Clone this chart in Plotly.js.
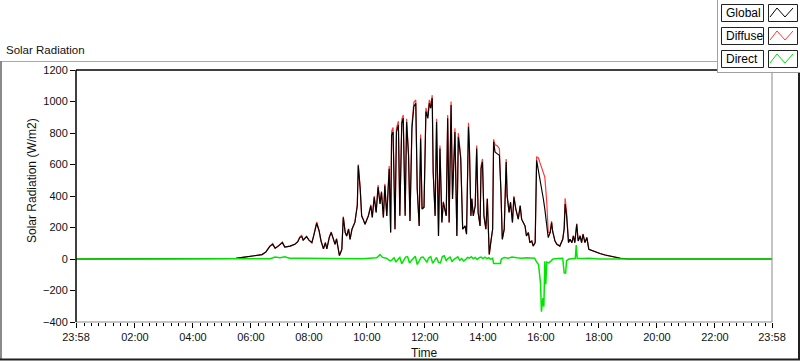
<!DOCTYPE html>
<html><head><meta charset="utf-8">
<script src="https://cdn.plot.ly/plotly-3.0.1.min.js"></script>
<style>html,body{margin:0;padding:0;background:#fff}#chart{width:800px;height:361px}</style>
</head><body><div id="chart"></div>
<script>
// minutes since midnight (-2 = 23:58 previous day)
const timeMin = [
-2,317,329,343,358,370,383,391,399,405,
410,416,420,425,430,441,451,457,461,465,
468,475,480,486,490,496,501,505,510,514,
517,522,526,530,534,537,543,548,551,555,
558,562,565,569,575,580,582,586,589,592,
596,603,608,611,615,619,623,627,630,634,
637,641,646,649,651,654,658,661,665,668,
672,675,679,682,686,689,693,697,701,704,
708,711,714,718,722,726,729,732,735,737,
741,744,748,751,755,758,764,767,770,774,
777,782,786,789,794,798,803,806,810,812,
815,817,820,824,827,830,834,836,839,842,
846,849,853,857,860,862,865,869,874,877,
880,884,886,888,890,894,897,901,904,908,
913,917,920,923,927,930,934,937,941,944,
948,951,955,958,962,965,968,972,975,979,
982,984,989,993,999,1005,1008,1010,1013,1017,
1020,1024,1027,1030,1034,1037,1041,1044,1047,1051,
1055,1059,1072,1082,1093,1107,1124,1140,1438];
const globalVals = [
0,0,4,10,15,20,28,45,80,93,
68,80,93,104,76,82,93,110,136,143,
120,142,120,104,150,227,178,114,65,104,
65,136,168,124,93,128,22,61,264,168,
146,189,125,189,232,338,594,445,274,253,
221,274,338,264,392,296,456,349,424,264,
466,274,573,168,786,807,189,807,850,274,
861,893,274,870,658,242,829,968,989,445,
210,765,317,327,936,893,989,957,1021,552,
274,870,146,701,232,360,274,893,232,978,
381,807,146,776,637,189,210,157,840,701,
274,381,274,338,701,296,210,573,616,274,
189,381,29,125,189,744,680,669,658,445,
125,189,445,616,402,296,360,232,392,317,
253,338,253,232,210,146,168,104,114,82,
104,626,562,498,445,381,317,189,136,168,
232,178,114,93,82,125,189,349,274,104,
125,104,146,104,221,114,146,104,157,104,
136,61,45,35,25,15,5,0,0];
const diffuseVals = [
0,0,4,10,15,20,28,45,82,98,
68,82,96,108,76,82,95,112,140,150,
120,145,120,104,152,235,178,114,65,104,
65,140,172,124,93,130,22,61,270,168,
146,192,125,190,235,345,600,450,274,253,
221,278,345,264,400,296,470,349,430,264,
478,274,590,168,810,835,189,830,875,274,
885,915,274,890,670,242,850,995,1010,445,
210,790,317,330,960,910,1010,975,1040,552,
274,890,146,720,232,365,274,915,232,1000,
381,830,146,800,650,189,210,157,865,715,
274,385,274,340,720,296,210,590,635,274,
189,385,29,125,189,760,725,720,700,445,
125,189,450,635,402,296,362,232,400,317,
253,340,253,232,210,146,168,104,114,82,
104,650,640,610,575,560,520,360,170,168,
240,180,114,93,82,125,200,385,300,104,
125,104,150,104,225,114,150,104,160,104,
136,61,45,35,25,15,5,0,0];
const directTime = [
-2,330,360,400,410,420,430,440,470,520,
560,590,620,627,632,640,648,652,656,660,
664,668,672,676,680,684,688,692,696,700,
704,708,712,716,720,724,728,732,736,740,
744,748,752,756,760,764,768,772,776,780,
784,788,792,796,800,804,808,812,816,820,
824,828,832,836,840,844,848,852,856,860,
862,876,878,884,892,900,910,920,930,940,
947,950,955,959,961,964,966,968,970,972,
976,980,985,995,1005,1008,1011,1013,1018,1031,
1033,1035,1045,1060,1080,1438];
const directVals = [
0,0,3,2,12,8,14,5,5,3,
5,2,8,28,10,5,-12,-5,8,-20,
-3,10,-30,-8,12,15,-25,-10,5,18,
-35,-15,10,12,-5,-20,8,15,-28,-6,
10,-22,-25,15,20,-10,5,12,-18,-2,
6,14,-8,3,-12,-4,10,6,15,2,
10,-3,8,12,3,12,2,8,-2,5,
-29,-29,0,10,5,12,8,5,8,5,
5,-14,-35,-152,-334,-248,-302,-14,-160,-20,
-25,-15,0,3,5,-88,-90,-10,0,3,
88,5,3,5,0,0];

const xTickVals = [-2,120,240,360,480,600,720,840,960,1080,1200,1320,1438];
const xTickText = ["23:58","02:00","04:00","06:00","08:00","10:00","12:00","14:00","16:00","18:00","20:00","22:00","23:58"];
const yTickVals = [-400,-200,0,200,400,600,800,1000,1200];
const seriesNames = ["Global","Diffuse","Direct"];
const seriesColors = ["#000000","#ff3a3a","#00e600"];

const FONT = "Liberation Sans, Arial, sans-serif";
const L=76, R=772, T=70, B=322;
const px = x => (x-L)/(R-L);
const py = y => (B-y)/(B-T);

function line(x0,y0,x1,y1,color,w){
  return {type:'line',xref:'paper',yref:'paper',x0:px(x0),y0:py(y0),x1:px(x1),y1:py(y1),line:{color:color,width:w},layer:'above'};
}
function rect(x0,y0,x1,y1,color,fill){
  return {type:'rect',xref:'paper',yref:'paper',x0:px(x0),y0:py(y0),x1:px(x1),y1:py(y1),line:{color:color,width:color?1:0},fillcolor:fill||'rgba(0,0,0,0)',layer:'above'};
}

const shapes = [
  line(0,61.5,717,61.5,'#a8a8a8',1),
  line(1,61,1,360,'#8a8a8a',2),
  line(0,359.5,800,359.5,'#202020',2),
  line(799,72,799,360,'#202020',2),
  line(76,322,772,322,'#8a8a8a',1),
  line(772,70,772,322,'#8a8a8a',1),
  line(76,70,772,70,'#000',1.5),
  line(76,70,76,322,'#000',1.5),
  rect(717,-1,801,72,null,'#ffffff'),
  line(717.5,0,717.5,72,'#a0a0a0',1),
  line(717,72.5,800,72.5,'#a0a0a0',1),
];
const annotations = [
  {text:'Solar Radiation',xref:'paper',yref:'paper',x:px(4),y:py(50),xanchor:'left',yanchor:'middle',showarrow:false,font:{family:FONT,size:11.5,color:'#111'}},
  {text:'Time',xref:'paper',yref:'paper',x:0.5,y:py(353),xanchor:'center',yanchor:'middle',showarrow:false,font:{family:FONT,size:12,color:'#111'}},
  {text:'Solar Radiation (W/m2)',xref:'paper',yref:'paper',x:px(32),y:py(180),xanchor:'center',yanchor:'middle',textangle:-90,showarrow:false,font:{family:FONT,size:12,color:'#111'}},
];
const rowTops = [4,27,50];
seriesNames.forEach((name,i)=>{
  const t = rowTops[i];
  shapes.push(rect(721.5,t+0.5,763.5,t+17.5,'#222','#fff'));
  shapes.push(rect(768.5,t+0.5,797.5,t+17.5,'#222','#fff'));
  shapes.push({type:'path',xref:'paper',yref:'paper',layer:'above',
    path:`M${px(770)},${py(t+13)} L${px(777)},${py(t+4)} L${px(785)},${py(t+13)} L${px(793)},${py(t+4)}`,
    line:{color:seriesColors[i],width:1}});
  annotations.push({text:name,xref:'paper',yref:'paper',x:px(723.5),y:py(t+9),xanchor:'left',yanchor:'middle',showarrow:false,font:{family:FONT,size:12,color:'#000'}});
});

const traces = [
  {x:timeMin,y:diffuseVals,name:seriesNames[1],type:'scatter',mode:'lines',line:{color:seriesColors[1],width:1.2}},
  {x:timeMin,y:globalVals,name:seriesNames[0],type:'scatter',mode:'lines',line:{color:seriesColors[0],width:1.15}},
  {x:directTime,y:directVals,name:seriesNames[2],type:'scatter',mode:'lines',line:{color:seriesColors[2],width:1.5}},
];

const layout = {
  width:800,height:361,autosize:false,
  margin:{l:L,r:800-R,t:T,b:361-B,pad:0},
  paper_bgcolor:'#fff',plot_bgcolor:'#fff',
  showlegend:false,
  xaxis:{range:[-2,1438],tickmode:'array',tickvals:xTickVals,ticktext:xTickText,
    ticks:'outside',ticklen:5,tickwidth:1,tickcolor:'#000',showgrid:false,zeroline:false,showline:false,
    tickfont:{family:FONT,size:11,color:'#111'},
    minor:{tickmode:'linear',tick0:0,dtick:15,ticks:'outside',ticklen:3,tickwidth:1,tickcolor:'#000',showgrid:false}},
  yaxis:{range:[-400,1200],tickmode:'array',tickvals:yTickVals,
    ticks:'outside',ticklen:5,tickwidth:1,tickcolor:'#000',showgrid:false,zeroline:false,showline:false,
    tickfont:{family:FONT,size:11,color:'#111'}},
  shapes:shapes,
  annotations:annotations,
};
Plotly.newPlot('chart',traces,layout,{staticPlot:true,displayModeBar:false});
</script></body></html>
